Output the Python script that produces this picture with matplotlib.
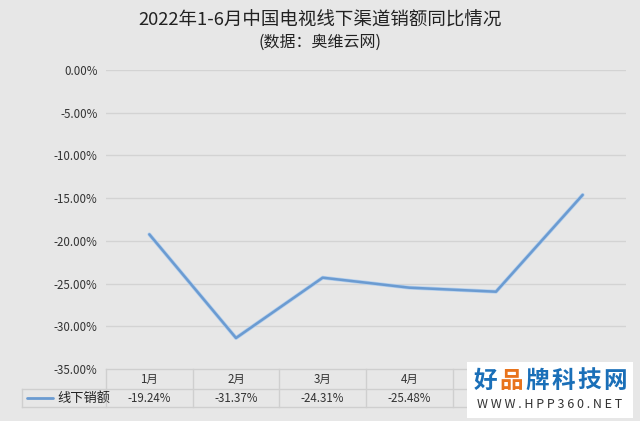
import matplotlib
matplotlib.use("Agg")
import matplotlib.pyplot as plt
from matplotlib.patches import Rectangle

plt.rcParams["font.family"] = ["Noto Sans CJK SC", "DejaVu Sans"]

# data (5月/6月 hidden under the watermark, estimated from the line)
months = ["1月", "2月", "3月", "4月", "5月", "6月"]
offline_sales = [-19.24, -31.37, -24.31, -25.48, -25.95, -14.62]
series_name = "线下销额"
title = "2022年1-6月中国电视线下渠道销额同比情况"
subtitle = "(数据：奥维云网)"
y_ticks = [0, -5, -10, -15, -20, -25, -30, -35]

W, H = 640, 421
bg = "#e7e7e7"
grid_c = "#d3d3d3"
line_c = "#6b9bd1"
text_c = "#333333"

fig = plt.figure(figsize=(W / 100, H / 100), dpi=100, facecolor=bg)

# plot area in pixels
left, right, top, bottom = 106, 626, 70, 369
ax = fig.add_axes([left / W, 1 - bottom / H, (right - left) / W, (bottom - top) / H])
ax.set_facecolor(bg)
x = list(range(len(months)))
ax.plot(x, offline_sales, color="#b3cfee", lw=2.8, solid_capstyle="round", zorder=2)
ax.plot(x, offline_sales, color=line_c, lw=1.8, solid_capstyle="round", zorder=3)
ax.set_xlim(-0.5, len(months) - 0.5)
ax.set_ylim(-35, 0)
ax.set_yticks(y_ticks)
ax.set_yticklabels([f"{v:.2f}%" for v in y_ticks], fontsize=8.3, color=text_c)
ax.tick_params(axis="y", length=0, pad=6)
ax.set_xticks([])
for v in y_ticks[:-1]:
    ax.axhline(v, color=grid_c, lw=1.0, zorder=1)
for s in ax.spines.values():
    s.set_visible(False)

# overlay in pixel coordinates for the data table, titles and watermark
ov = fig.add_axes([0, 0, 1, 1], facecolor="none")
ov.set_xlim(0, W)
ov.set_ylim(H, 0)
ov.axis("off")

ov.text(W / 2, 21, title, ha="center", va="center", fontsize=13.3, color="#222222")
ov.text(W / 2, 42, subtitle, ha="center", va="center", fontsize=11.5, color="#222222")

# watermark box, table cells under it are not visible
wm_x0, wm_y0, wm_w, wm_h = 467, 362, 166, 56

# data table under the axis
col_w = (right - left) / len(months)
r0, r1, r2 = bottom, 389, 407
leg_l = 22
tbl_c = "#cfcfcf"
ov.plot([left, right], [r0, r0], color=tbl_c, lw=1)
ov.plot([leg_l, right], [r1, r1], color=tbl_c, lw=1)
ov.plot([leg_l, right], [r2, r2], color=tbl_c, lw=1)
ov.plot([leg_l, leg_l], [r1, r2], color=tbl_c, lw=1)
for i in range(len(months) + 1):
    xb = left + i * col_w
    ov.plot([xb, xb], [r0, r2], color=tbl_c, lw=1)
for i, (m, v) in enumerate(zip(months, offline_sales)):
    cx = left + (i + 0.5) * col_w
    if cx > wm_x0:
        continue
    ov.text(cx, (r0 + r1) / 2, m, ha="center", va="center", fontsize=8.3, color=text_c)
    ov.text(cx, (r1 + r2) / 2, f"{v:.2f}%", ha="center", va="center", fontsize=8.3, color=text_c)
ov.plot([27, 53], [(r1 + r2) / 2] * 2, color=line_c, lw=2.0, solid_capstyle="round")
ov.text(57, (r1 + r2) / 2, series_name, ha="left", va="center", fontsize=9.5, color="#222222")

# watermark
ov.add_patch(Rectangle((wm_x0, wm_y0), wm_w, wm_h, facecolor="white", edgecolor="none", zorder=5))
wm_chars = ["好", "品", "牌", "科", "技", "网"]
wm_cols = ["#1a6fb8", "#e8731c", "#1a6fb8", "#1a6fb8", "#1a6fb8", "#1a6fb8"]
for i, (ch, c) in enumerate(zip(wm_chars, wm_cols)):
    ov.text(485 + i * 26, 381, ch, ha="center", va="center", fontsize=17,
            fontweight="bold", color=c, zorder=6)
ov.text(550, 405, "W W W . H P P 3 6 0 . N E T", ha="center", va="center",
        fontsize=9, color="#333333", zorder=6)

fig.savefig("out.png", dpi=100, facecolor=bg)
